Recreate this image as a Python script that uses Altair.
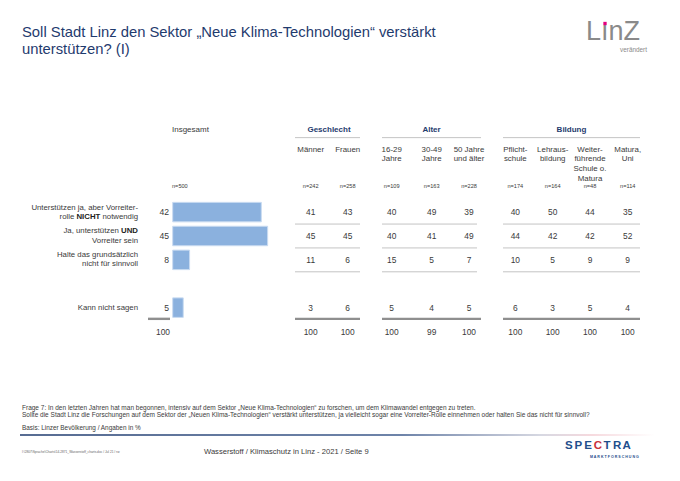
import altair as alt
import pandas as pd

# ---------------- data ----------------
answers = [
    "Unterstützen ja, aber Vorreiterrolle NICHT notwendig",
    "Ja, unterstützen UND Vorreiter sein",
    "Halte das grundsätzlich nicht für sinnvoll",
    "Kann nicht sagen",
]
# label lines, each a list of (segment, bold)
answer_lines = [
    [[("Unterstützen ja, aber Vorreiter-", False)],
     [("rolle ", False), ("NICHT", True), (" notwendig", False)]],
    [[("Ja, unterstützen ", False), ("UND", True)],
     [("Vorreiter sein", False)]],
    [[("Halte das grundsätzlich", False)],
     [("nicht für sinnvoll", False)]],
    [[("Kann nicht sagen", False)]],
]
total_label = "Insgesamt"
total_n = 500
total_values = [42, 45, 8, 5]
total_sum = 100

groups = ["Geschlecht", "Alter", "Bildung"]
columns = ["Männer", "Frauen", "16-29 Jahre", "30-49 Jahre", "50 Jahre und älter",
           "Pflichtschule", "Lehrausbildung", "Weiterführende Schule o. Matura", "Matura, Uni"]
column_lines = [["Männer"], ["Frauen"], ["16-29", "Jahre"], ["30-49", "Jahre"],
                ["50 Jahre", "und älter"], ["Pflicht-", "schule"], ["Lehraus-", "bildung"],
                ["Weiter-", "führende", "Schule o.", "Matura"], ["Matura,", "Uni"]]
column_group = [0, 0, 1, 1, 1, 2, 2, 2, 2]
column_n = [242, 258, 109, 163, 228, 174, 164, 48, 114]
column_values = [
    [41, 45, 11, 3],
    [43, 45, 6, 6],
    [40, 40, 15, 5],
    [49, 41, 5, 4],
    [39, 49, 7, 5],
    [40, 44, 10, 6],
    [50, 42, 5, 3],
    [44, 42, 9, 5],
    [35, 52, 9, 4],
]
column_sums = [100, 100, 100, 99, 100, 100, 100, 100, 100]

title_lines = ["Soll Stadt Linz den Sektor „Neue Klima-Technologien“ verstärkt",
               "unterstützen? (I)"]
question_lines = [
    "Frage 7: In den letzten Jahren hat man begonnen, intensiv auf dem Sektor „Neue Klima-Technologien“ zu forschen, um dem Klimawandel entgegen zu treten.",
    "Sollte die Stadt Linz die Forschungen auf dem Sektor der „Neuen Klima-Technologien“ verstärkt unterstützen, ja vielleicht sogar eine Vorreiter-Rolle einnehmen oder halten Sie das nicht für sinnvoll?",
]
basis_text = "Basis: Linzer Bevölkerung / Angaben in %"
footer_text = "Wasserstoff / Klimaschutz in Linz - 2021  /  Seite 9"
path_text = "I:\\2807\\Sprache\\Charts\\14-2871_Wasserstoff_charts.doc / Jul 21 / rw"

# ---------------- layout ----------------
W, H = 664, 465
FONT = "Liberation Sans"
TXT = "#3a3a3a"
BLUE = "#1f3b6e"
ROW_IDX = [0, 1, 2, 4]          # gap row before "Kann nicht sagen"
SUM_IDX = 5
N_IDX = -1.08
HEAD_IDX = -2.62
HEAD_STEP = 0.405
GROUP_IDX = -3.46
GROUP_LINE_IDX = -3.12
THICK_IDX = 4.47
Y0, STEP = 211.5, 24.4
y_dom = [(8 - Y0) / STEP, (8 + H - Y0) / STEP]
Y_SCALE = alt.Scale(domain=y_dom, reverse=True, nice=False, zero=False)
X_SCALE = alt.Scale(domain=[8, 8 + W], nice=False, zero=False)

COL_X = [310.7, 347.7, 391.7, 431.7, 469.0, 515.3, 552.7, 590.0, 627.7]
GROUP_X = [(295, 360), (382, 481), (503, 640)]
GROUP_CX = [329, 431.5, 571.5]
LABEL_R = 138
TOT_NUM_R = 169
BAR_X0 = 172.7
PX_PER_PCT = 2.11

# Arial metrics for width estimates (per 1000 em)
W_REG = {" ": 278, "n": 556, "o": 556, "t": 278, "w": 722, "e": 556, "d": 556, "i": 222, "g": 556}
W_BOLD = {" ": 278, "N": 722, "I": 278, "C": 722, "H": 722, "T": 611, "U": 722, "D": 722}


def tw(s, size, bold=False):
    tab = W_BOLD if bold else W_REG
    return sum(tab.get(c, 556) for c in s) * size / 1000.0


LABEL_SIZE = 7.8

# ---------------- tables ----------------
lab_rows = []
for r, lines in enumerate(answer_lines):
    nl = len(lines)
    for k, segs in enumerate(lines):
        yy = ROW_IDX[r] + (k - (nl - 1) / 2) * 0.385
        right = LABEL_R
        for seg, bold in reversed(segs):
            trail = len(seg) - len(seg.rstrip(" "))
            pos = right - tw(" " * trail, LABEL_SIZE, bold)
            lab_rows.append({"t": seg.strip(" "), "x": pos, "y": yy, "b": bold})
            right -= tw(seg, LABEL_SIZE, bold)
lab = pd.DataFrame(lab_rows)

bars = pd.DataFrame({"v": total_values, "y": ROW_IDX, "a": answers})
tot_nums = pd.DataFrame({"t": [str(v) for v in total_values], "x": TOT_NUM_R, "y": ROW_IDX})

cells = []
for j, vals in enumerate(column_values):
    for r, v in enumerate(vals):
        cells.append({"t": str(v), "x": COL_X[j], "y": ROW_IDX[r]})
    cells.append({"t": str(column_sums[j]), "x": COL_X[j], "y": SUM_IDX})
cells.append({"t": str(total_sum), "x": 163, "y": SUM_IDX})
cells = pd.DataFrame(cells)

heads = []
for j, lines in enumerate(column_lines):
    for k, s in enumerate(lines):
        heads.append({"t": s, "x": COL_X[j], "y": HEAD_IDX + k * HEAD_STEP})
heads = pd.DataFrame(heads)

ns = pd.DataFrame({"t": [f"n={n}" for n in column_n], "x": COL_X, "y": N_IDX})
ghead = pd.DataFrame({"t": groups, "x": GROUP_CX, "y": GROUP_IDX})
left_head = pd.DataFrame({"t": [total_label, f"n={total_n}"], "x": [172, 172], "y": [GROUP_IDX, N_IDX]})

thin = []
for g, (a, b) in enumerate(GROUP_X):
    thin.append({"x0": a, "x1": b, "y": GROUP_LINE_IDX})
    for s in (0.5, 1.5, 2.5):
        thin.append({"x0": a, "x1": b - (4 if g == 1 else 0), "y": s})
thin = pd.DataFrame(thin)
thick = pd.DataFrame([{"x0": a, "x1": b, "y": THICK_IDX} for a, b in GROUP_X] +
                     [{"x0": 148, "x1": 170, "y": THICK_IDX}])


def X(f="x"):
    return alt.X(f"{f}:Q", scale=X_SCALE, axis=None)


def Y(f="y"):
    return alt.Y(f"{f}:Q", scale=Y_SCALE, axis=None)


def text_layer(df, size, align="center", color=TXT, weight="normal"):
    return alt.Chart(df).mark_text(font=FONT, fontSize=size, align=align, baseline="middle",
                                   color=color, fontWeight=weight).encode(x=X(), y=Y(), text="t:N")


one = pd.DataFrame({"d": [0]})


def deco(text, x, y, size, color=TXT, weight="normal", align="left", font=FONT, baseline="middle"):
    return alt.Chart(one).mark_text(text=text, font=font, fontSize=size, color=color, fontWeight=weight,
                                    align=align, baseline=baseline).encode(
        x=alt.value(x - 8), y=alt.value(y - 8))


layers = []
# rules
layers.append(alt.Chart(thin).mark_rule(color="#c4c4c4", strokeWidth=1).encode(x=X("x0"), x2="x1:Q", y=Y()))
layers.append(alt.Chart(thick).mark_rule(color="#8f8f8f", strokeWidth=2.4).encode(x=X("x0"), x2="x1:Q", y=Y()))
# bars
bar_scale = alt.Scale(domain=[0, 100], range=[BAR_X0 - 8, BAR_X0 - 8 + 100 * PX_PER_PCT], nice=False)
layers.append(alt.Chart(bars).mark_bar(height=19.5, color="#8bb1de", stroke="#c9dbf1", strokeWidth=1,
                                       cornerRadius=0).encode(
    x=alt.X("v:Q", scale=bar_scale, axis=None), x2=alt.X2(datum=0), y=Y(), tooltip=["a:N", "v:Q"]))
# texts
layers.append(text_layer(lab[~lab.b], LABEL_SIZE, align="right"))
layers.append(text_layer(lab[lab.b], LABEL_SIZE, align="right", color="#222", weight="bold"))
layers.append(text_layer(tot_nums, 8.6, align="right"))
layers.append(text_layer(cells, 8.4))
layers.append(text_layer(heads, 7.9))
layers.append(text_layer(ns, 5.6))
layers.append(text_layer(ghead, 8.0, color=BLUE, weight="bold"))
layers.append(alt.Chart(left_head.iloc[:1]).mark_text(font=FONT, fontSize=8.0, align="left", baseline="middle",
                                                      color=TXT).encode(x=X(), y=Y(), text="t:N"))
layers.append(alt.Chart(left_head.iloc[1:]).mark_text(font=FONT, fontSize=5.6, align="left", baseline="middle",
                                                      color=TXT).encode(x=X(), y=Y(), text="t:N"))

# title
layers.append(deco(title_lines[0], 22, 33, 14.8, color=BLUE))
layers.append(deco(title_lines[1], 22, 49.5, 14.8, color=BLUE))
# Linz logo
layers.append(deco("LınZ", 586, 40, 27, color="#8a8a8a", baseline="alphabetic"))
layers.append(alt.Chart(one).mark_square(size=11, color="#e5007e", opacity=1).encode(
    x=alt.value(605.0 - 8), y=alt.value(23.5 - 8)))
layers.append(deco("verändert", 647, 49.5, 6.4, color="#8a8a8a", align="right"))
# footer
layers.append(deco(question_lines[0], 22, 408, 6.5))
layers.append(deco(question_lines[1], 22, 415, 6.5))
layers.append(deco(basis_text, 22, 427.5, 6.4))
grad = alt.LinearGradient(gradient="linear", x1=0, x2=1, y1=0, y2=0, stops=[
    alt.GradientStop(color="#1f3b6e", offset=0),
    alt.GradientStop(color="#3d5a8c", offset=0.6),
    alt.GradientStop(color="#c9cbd8", offset=0.82),
    alt.GradientStop(color="#f3cdd3", offset=0.9),
    alt.GradientStop(color="#ffffff", offset=1)])
layers.append(alt.Chart(one).mark_rect(fill=grad).encode(
    x=alt.value(20 - 8), x2=alt.value(655 - 8), y=alt.value(434.2 - 8), y2=alt.value(435.8 - 8)))
layers.append(deco(path_text, 22, 451.5, 3.2, color="#666"))
layers.append(deco(footer_text, 204, 451.5, 7.6))
# SPECTRA logo
for i, ch in enumerate("SPECTRA"):
    layers.append(deco(ch, 565 + i * 9.6, 446, 11.5, color="#c8323c" if ch == "C" else "#1f4e8c",
                       weight="bold"))
layers.append(deco("M A R K T F O R S C H U N G", 590, 457, 3.6, color="#1f4e8c", weight="bold"))

chart = alt.layer(*layers).resolve_scale(x="independent").properties(
    width=W, height=H, autosize=alt.AutoSizeParams(type="none"), padding=0,
    background="white"
).configure_view(strokeWidth=0)

chart.save("out.html", embed_options={"renderer": "svg", "actions": False})
